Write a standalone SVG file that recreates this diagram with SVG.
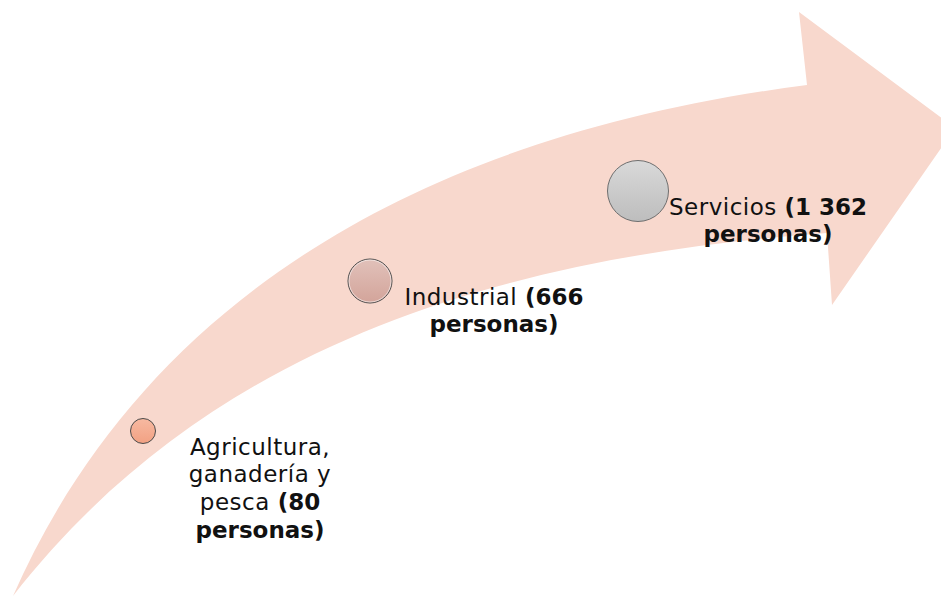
<svg xmlns="http://www.w3.org/2000/svg" width="941" height="597" viewBox="0 0 941 597">
<style>
.t{font-family:"DejaVu Sans","Liberation Sans",sans-serif;font-size:23px;fill:#111;text-anchor:middle;letter-spacing:0.5px}
.b{font-weight:bold;letter-spacing:0}
.c{stroke:#4a4a4a;stroke-width:1}
</style>
<defs>
<linearGradient id="g1" x1="0" y1="0" x2="0" y2="1"><stop offset="0" stop-color="#F7B9A1"/><stop offset="1" stop-color="#F2A183"/></linearGradient>
<linearGradient id="g2" x1="0" y1="0" x2="0" y2="1"><stop offset="0" stop-color="#E1C1BA"/><stop offset="1" stop-color="#D3A49A"/></linearGradient>
<linearGradient id="g3" x1="0" y1="0" x2="0" y2="1"><stop offset="0" stop-color="#D9D9D9"/><stop offset="1" stop-color="#BDBDBD"/></linearGradient>
</defs>
<rect width="941" height="597" fill="#fff"/>
<g id="arrow">
<path d="M13,596 C130,330 380,140 807,85 L799,12 L955,128 L832,305 L827,233 C530,255 220,330 13,596 Z" fill="#F8D8CD"/>
</g>
<g id="node-agricultura">
<circle class="c" cx="143" cy="431" r="12.5" fill="url(#g1)"/>
<text class="t" x="260" y="455">Agricultura,</text>
<text class="t" x="260" y="482">ganadería y</text>
<text class="t" x="260" y="510">pesca <tspan class="b">(80</tspan></text>
<text class="t b" x="260" y="538">personas)</text>
</g>
<g id="node-industrial">
<circle class="c" cx="370" cy="281" r="22" fill="url(#g2)"/>
<circle cx="370" cy="281" r="21" fill="none" stroke="#fff" stroke-width="0.8" opacity="0.7"/>
<text class="t" x="494" y="305">Industrial <tspan class="b">(666</tspan></text>
<text class="t b" x="494" y="332">personas)</text>
</g>
<g id="node-servicios">
<circle cx="638" cy="191" r="30.5" fill="url(#g3)" stroke="#6e6e6e" stroke-width="1"/>
<text class="t" x="768" y="215">Servicios <tspan class="b">(1 362</tspan></text>
<text class="t b" x="768" y="242">personas)</text>
</g>
<g id="connectors"></g>
</svg>
